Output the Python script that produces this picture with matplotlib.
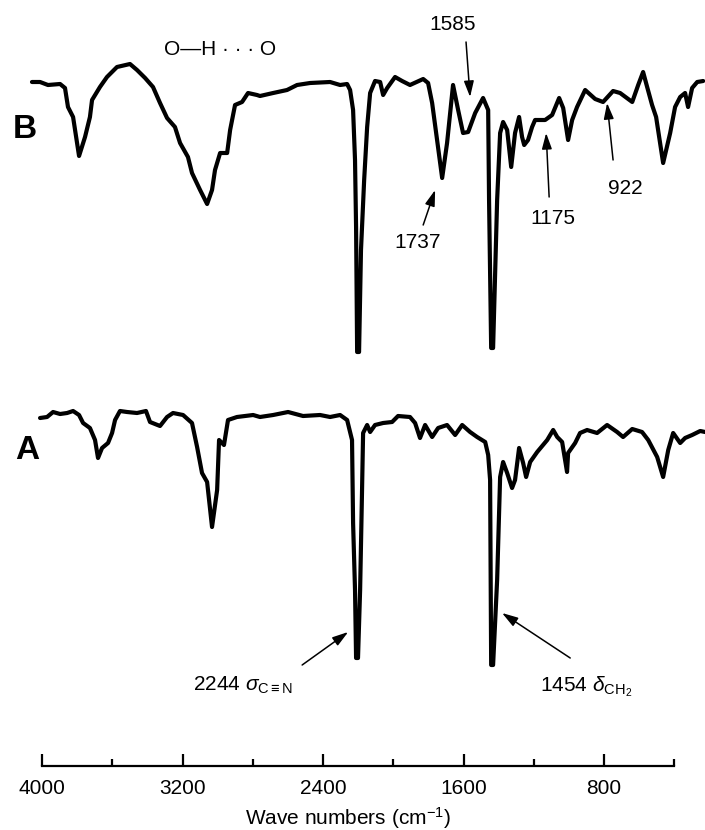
import matplotlib
matplotlib.use("Agg")
import matplotlib.pyplot as plt

plt.rcParams['font.family'] = ['Liberation Sans', 'DejaVu Sans']
plt.rcParams['mathtext.fontset'] = 'custom'
plt.rcParams['mathtext.rm'] = 'Liberation Sans'
plt.rcParams['mathtext.it'] = 'Liberation Sans:italic'
plt.rcParams['mathtext.bf'] = 'Liberation Sans:bold'

# ---------------- data (wavenumber in cm^-1, transmittance in arbitrary units) -------------
wn_B = [4057, 4011, 3966, 3897, 3869, 3852, 3823, 3789, 3755, 3727, 3715, 3670, 3630, 3573,
        3499, 3459, 3413, 3368, 3328, 3288, 3243, 3214, 3169, 3146, 3100, 3060, 3032, 3015,
        2986, 2946, 2929, 2901, 2861, 2827, 2776, 2759, 2684, 2605, 2548, 2474, 2360, 2303,
        2263, 2246, 2229, 2218, 2212, 2206, 2195, 2184, 2166, 2149, 2132, 2104, 2075, 2058,
        2035, 1990, 1950, 1905, 1830, 1802, 1779, 1722, 1694, 1660, 1631, 1603, 1574, 1534,
        1489, 1460, 1455, 1443, 1432, 1409, 1392, 1375, 1352, 1329, 1307, 1284, 1267, 1255,
        1233, 1210, 1193, 1136, 1096, 1056, 1033, 1005, 982, 954, 908, 851, 806, 749, 709,
        640, 606, 578, 555, 527, 504, 464, 424, 396, 367, 339, 322, 299, 270, 236]
trans_B = [278, 278, 275, 276, 272, 253, 243, 204, 223, 243, 260, 273, 283, 293,
           296, 290, 282, 273, 257, 242, 233, 217, 203, 187, 170, 156, 170, 190,
           207, 207, 230, 255, 258, 267, 265, 264, 267, 270, 275, 277, 278, 275,
           276, 270, 250, 200, 133, 8, 8, 110, 180, 233, 267, 279, 278, 265,
           272, 283, 279, 275, 281, 277, 257, 182, 217, 275, 250, 227, 228, 247,
           262, 250, 160, 12, 12, 160, 227, 238, 230, 193, 227, 243, 223, 215,
           220, 233, 240, 240, 245, 262, 252, 220, 240, 253, 270, 261, 258, 269, 267,
           258, 275, 288, 273, 255, 243, 197, 227, 253, 263, 267, 253, 272, 278, 279]

wn_A = [4011, 3971, 3937, 3897, 3857, 3823, 3789, 3766, 3727, 3698, 3681, 3658, 3624, 3601,
        3584, 3556, 3516, 3459, 3408, 3385, 3328, 3288, 3254, 3197, 3146, 3117, 3089, 3060,
        3032, 3003, 2992, 2964, 2941, 2890, 2798, 2759, 2684, 2599, 2514, 2417, 2360, 2303,
        2263, 2235, 2229, 2218, 2212, 2201, 2189, 2178, 2172, 2149, 2132, 2104, 2058, 2007,
        1973, 1905, 1876, 1848, 1819, 1779, 1745, 1694, 1648, 1608, 1563, 1523, 1477, 1460,
        1449, 1443, 1432, 1409, 1392, 1375, 1352, 1324, 1307, 1284, 1261, 1244, 1221, 1181,
        1124, 1090, 1067, 1039, 1011, 1005, 965, 937, 897, 840, 783, 726, 692, 640, 584,
        549, 498, 464, 435, 407, 367, 339, 299, 253, 225]
trans_A = [252, 253, 258, 256, 257, 259, 255, 247, 242, 230, 212, 222, 227, 237,
           250, 259, 258, 257, 259, 248, 244, 253, 257, 255, 247, 223, 197, 188,
           143, 180, 230, 225, 250, 253, 255, 253, 255, 258, 254, 255, 253, 255,
           250, 230, 147, 80, 12, 12, 80, 180, 237, 245, 238, 245, 247, 248,
           254, 253, 247, 232, 245, 233, 242, 245, 235, 245, 238, 233, 228, 215,
           190, 5, 5, 90, 193, 208, 197, 182, 190, 222, 207, 193, 208, 218,
           230, 240, 233, 228, 198, 217, 227, 237, 240, 237, 245, 238, 233, 241, 238,
           230, 213, 193, 220, 237, 227, 232, 235, 239, 238]

major_ticks = [4000, 3200, 2400, 1600, 800]
tick_labels = ['4000', '3200', '2400', '1600', '800']
minor_ticks = [3600, 2800, 2000, 1200, 400]

# ---------------- figure ----------------
fig = plt.figure(figsize=(7.05, 8.3), dpi=100)
ax = fig.add_axes([0, 0, 1, 1])
ax.set_xlim(4239, 225.7)
ax.set_ylim(0, 830)

offset_B = 470
offset_A = 160
line_kw = dict(color='black', lw=3.0, solid_joinstyle='round', solid_capstyle='round')
ax.plot(wn_B, [v + offset_B for v in trans_B], **line_kw)
ax.plot(wn_A, [v + offset_A for v in trans_A], **line_kw)

# axis
for s in ['top', 'left', 'right']:
    ax.spines[s].set_visible(False)
ax.spines['bottom'].set_position(('data', 64))
ax.spines['bottom'].set_bounds(400, 4000)
ax.spines['bottom'].set_linewidth(1.6)
ax.set_xticks(major_ticks)
ax.set_xticklabels(tick_labels, fontsize=15)
ax.set_xticks(minor_ticks, minor=True)
ax.tick_params(axis='x', which='major', direction='in', length=9, width=1.6, pad=9)
ax.tick_params(axis='x', which='minor', direction='in', length=5, width=1.6)
ax.set_yticks([])

ax.text(0.494, 12 / 830, 'Wave numbers (cm$^{-1}$)', transform=ax.transAxes,
        ha='center', va='center', fontsize=15)

# trace labels
ax.text(4097, 700, 'B', fontsize=24, fontweight='bold', ha='center', va='center')
ax.text(4085, 380, 'A', fontsize=24, fontweight='bold', ha='center', va='center')

# annotations
ax.text(2986, 780, 'O—H · · · O', fontsize=15, ha='center', va='center')

arrow_kw = dict(arrowstyle='-|>,head_length=0.8,head_width=0.25', color='black',
                lw=1.1, shrinkA=0, shrinkB=0, mutation_scale=12)

def arrow(tail, tip):
    ax.annotate('', xy=tip, xytext=tail, arrowprops=arrow_kw)

ax.text(1660, 805, '1585', fontsize=15, ha='center', va='center')
arrow((1586, 788), (1563, 733))

ax.text(1859, 588, '1737', fontsize=15, ha='center', va='center')
arrow((1830, 605), (1762, 640))

ax.text(1090, 612, '1175', fontsize=15, ha='center', va='center')
arrow((1113, 633), (1130, 697))

ax.text(680, 642, '922', fontsize=15, ha='center', va='center')
arrow((749, 670), (783, 727))

ax.text(3140, 145, r'2244 $\sigma_{\mathrm{C\equiv N}}$', fontsize=15, ha='left', va='center')
arrow((2519, 165), (2257, 198))

ax.text(1164, 143, r'1454 $\delta_{\mathrm{CH_2}}$', fontsize=15, ha='left', va='center')
arrow((993, 172), (1381, 217))

fig.savefig('out.png', dpi=100, facecolor='white')
